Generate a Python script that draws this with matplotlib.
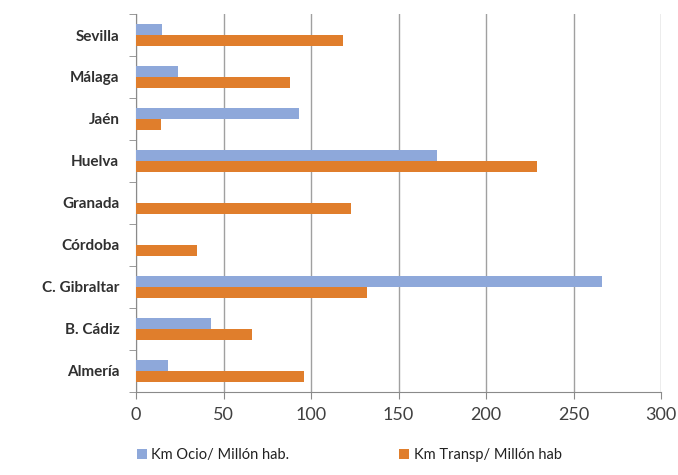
import matplotlib.pyplot as plt
import numpy as np

# Categories (bottom to top) and values
provincias = ['Almería', 'B. Cádiz', 'C. Gibraltar', 'Córdoba', 'Granada',
              'Huelva', 'Jaén', 'Málaga', 'Sevilla']
km_ocio = [18, 43, 266, 0, 0, 172, 93, 24, 15]
km_transp = [96, 66, 132, 35, 123, 229, 14, 88, 118]

serie_ocio = 'Km Ocio/ Millón hab.'
serie_transp = 'Km Transp/ Millón hab'

plt.rcParams['font.family'] = ['Lato', 'DejaVu Sans']

fig = plt.figure(figsize=(6.78, 4.75), dpi=100)
ax = fig.add_axes([0.2006, 0.175, 0.7744, 0.7955])

y = np.arange(len(provincias))
h = 0.27
ax.barh(y + h / 2, km_ocio, height=h, color='#8EA8DA', label=serie_ocio, zorder=3)
ax.barh(y - h / 2, km_transp, height=h, color='#E07E2C', label=serie_transp, zorder=3)

ax.set_xlim(0, 300)
ax.set_ylim(-0.5, len(provincias) - 0.5)
ax.set_xticks(range(0, 301, 50))
ax.tick_params(axis='x', labelsize=13, colors='#8a8a8a', labelcolor='#404040',
               length=5, direction='out', pad=6)

# category labels centred, tick marks at category boundaries
ax.set_yticks(y)
ax.set_yticklabels(provincias, fontsize=11, fontweight='bold', color='#303030')
ax.tick_params(axis='y', length=0, pad=12)
ax.set_yticks(np.arange(-0.5, len(provincias)), minor=True)
ax.tick_params(axis='y', which='minor', length=5, color='#8a8a8a')

ax.grid(axis='x', color='#a0a0a0', linewidth=1, zorder=0)
for s in ['top', 'right']:
    ax.spines[s].set_visible(False)
ax.spines['left'].set_color('#8a8a8a')
ax.spines['bottom'].set_color('#8a8a8a')

fig.legend(loc='lower center', bbox_to_anchor=(0.515, 0.0), ncol=2, frameon=False,
           fontsize=10.5, handlelength=0.7, handleheight=0.7, columnspacing=7.5,
           handletextpad=0.3, labelcolor='#222222')

plt.savefig('out.png', dpi=100)
